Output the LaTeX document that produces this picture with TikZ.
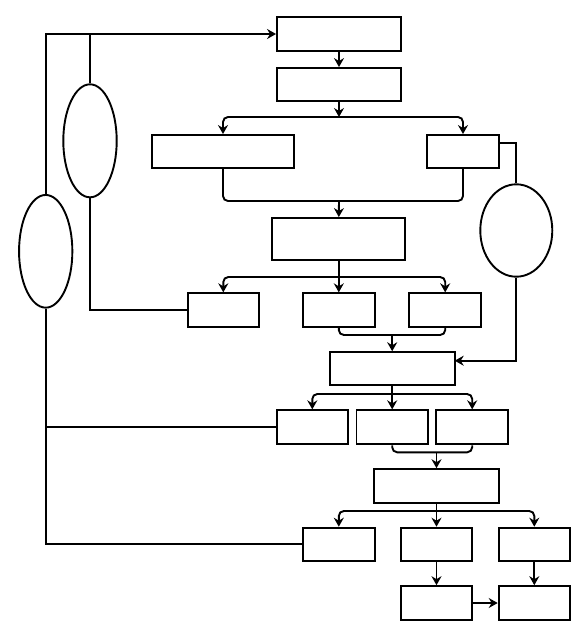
\documentclass[tikz,border=0pt]{standalone}
\usetikzlibrary{arrows.meta,shapes.geometric}
\begin{document}
\begin{tikzpicture}[x=1pt,y=-1pt,line width=1.9pt,
  box/.style={draw,rectangle,inner sep=0pt,minimum width=#1},
  ell/.style={draw,ellipse,inner sep=0pt},
  arr/.style={-{Stealth[length=9pt,width=10pt,inset=3pt]}},
  rc/.style={rounded corners=5pt}]
\useasboundingbox (0,0) rectangle (588,638);
% boxes
\node[box=124,minimum height=34] (A) at (339,34) {};
\node[box=124,minimum height=33] (B) at (339,84.5) {};
\node[box=142,minimum height=33] (C) at (223,151.5) {};
\node[box=71.4,minimum height=33] (D) at (463,151.5) {};
\node[box=133,minimum height=42] (E) at (338.8,239) {};
\node[box=71.3,minimum height=33.4] (F) at (223.3,310) {};
\node[box=71.7,minimum height=33.4] (G) at (338.8,310) {};
\node[box=71.7,minimum height=33.4] (H) at (445.2,310) {};
\node[box=125,minimum height=33] (I) at (392.2,368.7) {};
\node[box=71.3,minimum height=34] (J) at (312.3,427.3) {};
\node[box=71.4,minimum height=34] (K) at (392.2,427.3) {};
\node[box=71.7,minimum height=34] (L) at (472.2,427.3) {};
\node[box=124.4,minimum height=33.7] (M) at (436.5,486) {};
\node[box=71.7,minimum height=33.3] (N) at (338.8,544.3) {};
\node[box=71.6,minimum height=33.3] (O) at (436.5,544.3) {};
\node[box=71.3,minimum height=33.3] (P) at (534.3,544.3) {};
\node[box=71.6,minimum height=33.7] (Q) at (436.5,603) {};
\node[box=71.3,minimum height=33.7] (R) at (534.3,603) {};
% ellipses
\node[ell,minimum width=53.4,minimum height=113] (e1) at (90,140.8) {};
\node[ell,minimum width=53.3,minimum height=112.7] (e2) at (45.7,251.3) {};
\node[ell,minimum width=72,minimum height=92.4] (e3) at (516.3,230.5) {};
% junction coordinates
\coordinate (j1) at (339,117);
\coordinate (m1) at (339,201);
\coordinate (j2) at (338.8,277);
\coordinate (m2) at (392.2,335);
\coordinate (j3) at (392.2,394);
\coordinate (m3) at (436.5,452.3);
\coordinate (j4) at (436.5,511);
\coordinate (d1) at (498.7,143.3);
\coordinate (i1) at (454.7,360.7);
% main flow
\draw[arr] (A) -- (B);
\draw[arr] (B.south) -- (j1);
\draw[arr,rc] (j1) -| (C.north);
\draw[arr,rc] (j1) -| (D.north);
\draw[rc] (C.south) |- (m1);
\draw[rc] (D.south) |- (m1);
\draw[arr] (m1) -- (E.north);
\draw[arr] (E.south) -- (G.north);
\draw[arr,rc] (j2) -| (F.north);
\draw[arr,rc] (j2) -| (H.north);
\draw[rc] (G.south) |- (m2) -| (H.south);
\draw[arr] (m2) -- (I.north);
\draw[arr] (I.south) -- (K.north);
\draw[arr,rc] (j3) -| (J.north);
\draw[arr,rc] (j3) -| (L.north);
\draw[rc] (K.south) |- (m3) -| (L.south);
\draw[arr] (m3) -- (M.north);
\draw[arr] (M.south) -- (O.north);
\draw[arr,rc] (j4) -| (N.north);
\draw[arr,rc] (j4) -| (P.north);
\draw[arr] (O) -- (Q);
\draw[arr] (P) -- (R);
\draw[arr] (Q) -- (R);
% right loop
\draw (d1) -| (e3.north);
\draw[arr] (e3.south) |- (i1);
% left loops
\draw[arr] (e2.north) |- (A.west);
\draw (e1.north) -- (e1.north |- A.west);
\draw (e1.south) |- (F.west);
\draw (e2.south) |- (N.west);
\draw (e2.south |- J.west) -- (J.west);
\end{tikzpicture}
\end{document}
